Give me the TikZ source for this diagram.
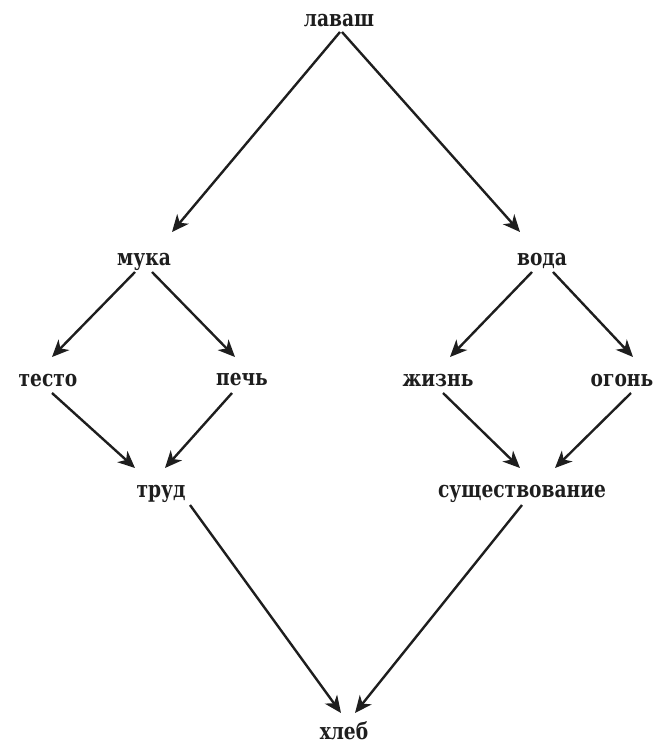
\documentclass[tikz,border=0pt]{standalone}
\usepackage{fontspec}
\setmainfont[FakeStretch=0.9]{DejaVu Serif Condensed}
\usetikzlibrary{arrows.meta,calc}
\definecolor{ink}{HTML}{1E1E1E}
\begin{document}
\begin{tikzpicture}[x=1pt,y=-1pt,
  lbl/.style={inner sep=0pt,text height=1ex,text depth=0pt,anchor=center,
    font=\fontsize{23}{26}\selectfont\bfseries,text=ink},
  arr/.style={draw=ink,line width=2.4pt,-{Stealth[length=17pt,width=15pt,inset=5pt]}}]
\useasboundingbox (0,0) rectangle (664,747);
\node[lbl] (L) at (339,24) {лаваш};
\node[lbl] (M) at (144,263) {мука};
\node[lbl] (V) at (542,263) {вода};
\node[lbl] (T) at (48,384) {тесто};
\node[lbl] (P) at (242,383) {печь};
\node[lbl] (Z) at (438,384) {жизнь};
\node[lbl] (O) at (622,384) {огонь};
\node[lbl] (R) at (161,495) {труд};
\node[lbl] (S) at (522,495) {существование};
\node[lbl] (H) at (344,737) {хлеб};
\draw[arr] ($(L)+(1,8)$) -- ($(M)+(28,-31)$);
\draw[arr] ($(L)+(3,8)$) -- ($(V)+(-22,-31)$);
\draw[arr] ($(M)+(-9,9)$) -- ($(T)+(4,-27)$);
\draw[arr] ($(M)+(8,9)$) -- ($(P)+(-7,-26)$);
\draw[arr] ($(V)+(-10,9)$) -- ($(Z)+(12,-27)$);
\draw[arr] ($(V)+(11,9)$) -- ($(O)+(11,-27)$);
\draw[arr] ($(T)+(4,9)$) -- ($(R)+(-26,-27)$);
\draw[arr] ($(P)+(-10,10)$) -- ($(R)+(4,-27)$);
\draw[arr] ($(Z)+(5,9)$) -- ($(S)+(-2,-27)$);
\draw[arr] ($(O)+(9,9)$) -- ($(S)+(33,-27)$);
\draw[arr] ($(R)+(29,10)$) -- ($(H)+(-3,-24)$);
\draw[arr] ($(S)+(0,10)$) -- ($(H)+(11,-24)$);
\end{tikzpicture}
\end{document}
